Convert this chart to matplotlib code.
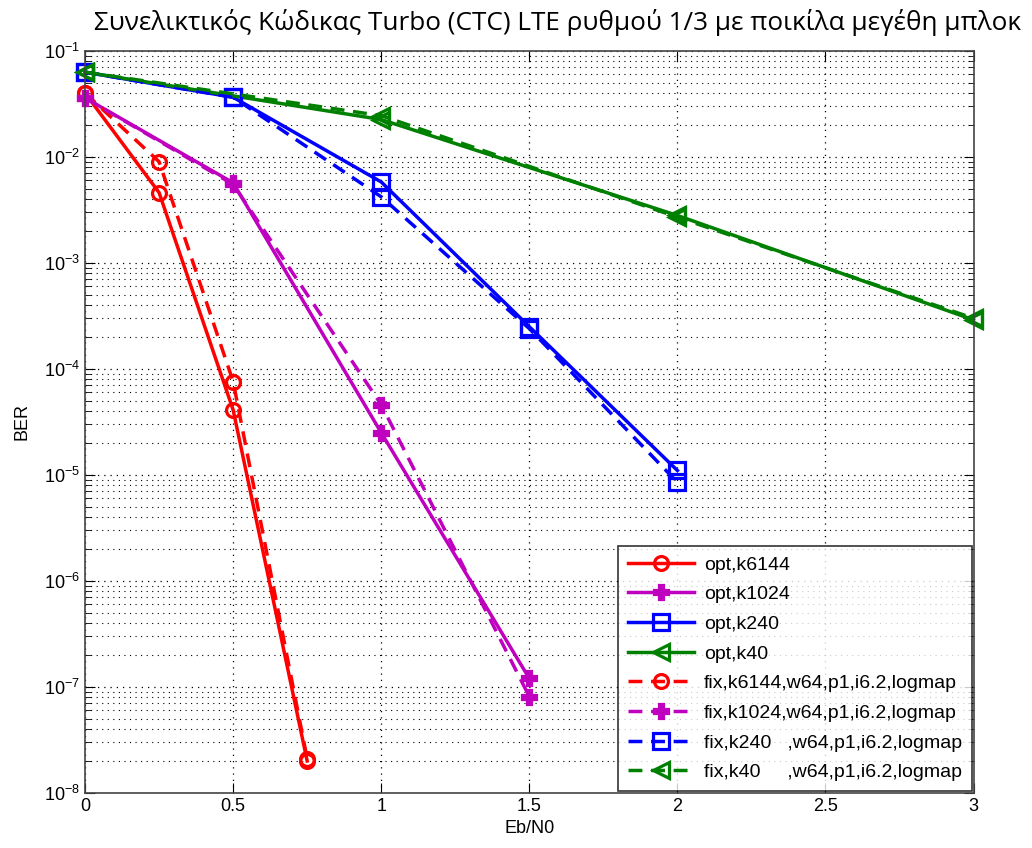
import matplotlib
matplotlib.use("Agg")
import matplotlib.pyplot as plt
from matplotlib.ticker import LogLocator, FixedLocator, NullFormatter

plt.rcParams["font.family"] = ["Liberation Sans", "DejaVu Sans"]
plt.rcParams["mathtext.fontset"] = "custom"
plt.rcParams["mathtext.rm"] = "Liberation Sans"
plt.rcParams["mathtext.it"] = "Liberation Sans:italic"

TITLE = "Συνελικτικός Κώδικας Turbo (CTC) LTE ρυθμού 1/3 με ποικίλα μεγέθη μπλοκ"

# k6144
EB_K6144 = [0, 0.25, 0.5, 0.75]
BER_OPT_K6144 = [0.040, 0.0046, 4.1e-5, 2.0e-8]
BER_FIX_K6144 = [0.040, 0.0090, 7.6e-5, 2.1e-8]

# k1024
EB_K1024 = [0, 0.5, 1.0, 1.5]
BER_OPT_K1024 = [0.036, 0.0057, 2.5e-5, 1.2e-7]
BER_FIX_K1024 = [0.036, 0.0055, 4.6e-5, 8.1e-8]

# k240
EB_K240 = [0, 0.5, 1.0, 1.5, 2.0]
BER_OPT_K240 = [0.063, 0.0365, 0.0058, 2.5e-4, 1.1e-5]
BER_FIX_K240 = [0.063, 0.0365, 0.0042, 2.4e-4, 8.5e-6]

# k40
EB_K40 = [0, 1.0, 2.0, 3.0]
BER_OPT_K40 = [0.063, 0.0225, 0.0028, 2.9e-4]
BER_FIX_K40 = [0.063, 0.0245, 0.0027, 3.0e-4]

LABELS = [
    "opt,k6144",
    "opt,k1024",
    "opt,k240",
    "opt,k40",
    "fix,k6144,w64,p1,i6.2,logmap",
    "fix,k1024,w64,p1,i6.2,logmap",
    "fix,k240   ,w64,p1,i6.2,logmap",
    "fix,k40     ,w64,p1,i6.2,logmap",
]

RED = "#ff0000"
MAGENTA = "#bf00bf"
BLUE = "#0000ff"
GREEN = "#008000"

fig = plt.figure(figsize=(10.32, 8.48), dpi=100)
ax = fig.add_axes([0.0824, 0.065, 0.861, 0.875])

series = [
    (EB_K6144, BER_OPT_K6144, RED, "o", 10, "none"),
    (EB_K1024, BER_OPT_K1024, MAGENTA, "P", 10, MAGENTA),
    (EB_K240, BER_OPT_K240, BLUE, "s", 11, "none"),
    (EB_K40, BER_OPT_K40, GREEN, "<", 12, "none"),
]
fixed = [BER_FIX_K6144, BER_FIX_K1024, BER_FIX_K240, BER_FIX_K40]

for (x, y, c, m, ms, fc), lab in zip(series, LABELS[:4]):
    ax.plot(x, y, color=c, lw=2.5, marker=m, ms=ms, mfc=fc, mew=2.3,
            label=lab, clip_on=False)
for (x, _, c, m, ms, fc), y, lab in zip(series, fixed, LABELS[4:]):
    ax.plot(x, y, color=c, lw=2.5, ls=(0, (4, 2.5)), marker=m, ms=ms,
            mfc=fc, mew=2.3, label=lab, clip_on=False)

ax.set_yscale("log")
ax.set_xlim(0, 3)
ax.set_ylim(1e-8, 1e-1)
ax.xaxis.set_major_locator(FixedLocator([0, 0.5, 1, 1.5, 2, 2.5, 3]))
ax.set_xticklabels(["0", "0.5", "1", "1.5", "2", "2.5", "3"])
ax.yaxis.set_major_locator(LogLocator(base=10, numticks=12))
ax.yaxis.set_minor_locator(LogLocator(base=10, subs=range(2, 10), numticks=12))
ax.yaxis.set_minor_formatter(NullFormatter())

ax.grid(True, which="major", color="black", ls=(0, (1, 4)), lw=0.9)
ax.grid(True, which="minor", axis="y", color="black", ls=(0, (1, 4)), lw=0.8)
ax.tick_params(which="both", direction="in", top=True, right=True,
               labelsize=13)
ax.tick_params(which="major", length=7)
ax.tick_params(which="minor", length=4)
for s in ax.spines.values():
    s.set_color("#444444")
    s.set_linewidth(1.2)

ax.set_xlabel("Eb/N0", fontsize=13, labelpad=4)
ax.set_ylabel("BER", fontsize=13, labelpad=10)
fig.text(0.54, 0.973, TITLE, ha="center", va="center", fontsize=18.8,
         family=["Open Sans", "DejaVu Sans"])

leg = ax.legend(loc="lower right", fontsize=14, frameon=True, fancybox=False,
                edgecolor="black", handlelength=3.4, labelspacing=0.62,
                borderaxespad=0.1, borderpad=0.5, handletextpad=0.5)
leg.get_frame().set_linewidth(1.2)

fig.savefig("out.png", dpi=100)
